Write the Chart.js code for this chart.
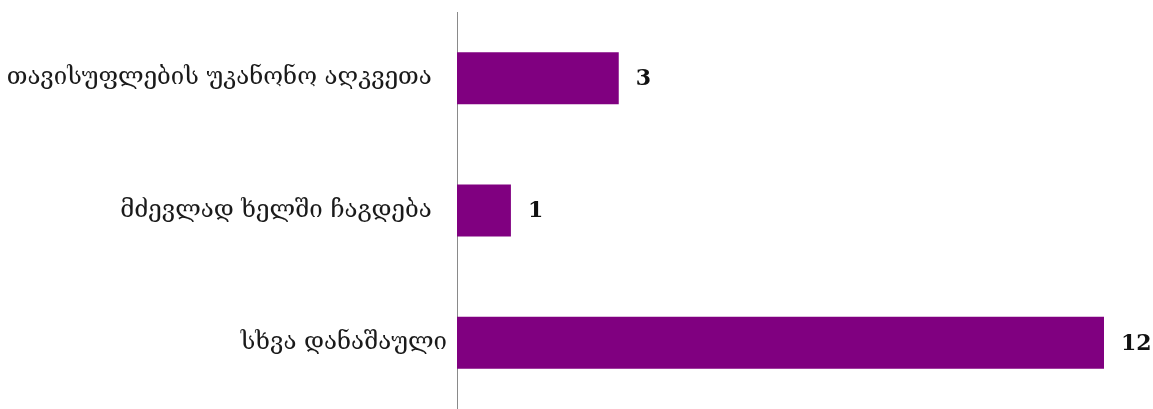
<!DOCTYPE html>
<html>
<head>
<meta charset="utf-8">
<script src="https://cdn.jsdelivr.net/npm/chart.js@4"></script>
<style>
  html, body { margin: 0; padding: 0; background: #fff; overflow: hidden; }
  canvas { display: block; }
</style>
</head>
<body>
<canvas id="crimeChart" width="1153" height="409"></canvas>
<script>
"use strict";

const categories = ["თავისუფლების უკანონო აღკვეთა  ", "მძევლად ხელში ჩაგდება  ", "სხვა დანაშაული"];
const counts = [3, 1, 12];
const barColor = "#800080";

// draw the numbers next to each bar
const valueLabels = {
  id: "valueLabels",
  afterDatasetsDraw(chart) {
    const ctx = chart.ctx;
    const meta = chart.getDatasetMeta(0);
    ctx.save();
    ctx.font = "bold 22px 'DejaVu Serif'";
    ctx.fillStyle = "#111";
    ctx.textAlign = "left";
    ctx.textBaseline = "middle";
    meta.data.forEach(function (bar, i) {
      ctx.fillText(String(counts[i]), bar.x + 17, bar.y + 1);
    });
    ctx.restore();
  }
};

const ctx = document.getElementById("crimeChart").getContext("2d");
new Chart(ctx, {
  type: "bar",
  data: {
    labels: categories,
    datasets: [{
      data: counts,
      backgroundColor: barColor,
      borderWidth: 0,
      barPercentage: 0.786,
      categoryPercentage: 0.5
    }]
  },
  options: {
    indexAxis: "y",
    responsive: false,
    animation: false,
    layout: { padding: { top: 12, right: 49, bottom: 0, left: 0 } },
    plugins: {
      legend: { display: false },
      tooltip: { enabled: false }
    },
    scales: {
      x: {
        display: false,
        min: 0,
        max: 12
      },
      y: {
        afterFit: function (scale) {
          scale.width = 457;
          scale.paddingTop = 0;
          scale.paddingBottom = 0;
        },
        grid: { display: false, drawTicks: false },
        border: { display: true, color: "#8a8a8a", width: 1 },
        ticks: {
          color: "#1a1a1a",
          padding: 10,
          font: { family: "'DejaVu Serif'", size: 24 }
        }
      }
    }
  },
  plugins: [valueLabels]
});
</script>
</body>
</html>
